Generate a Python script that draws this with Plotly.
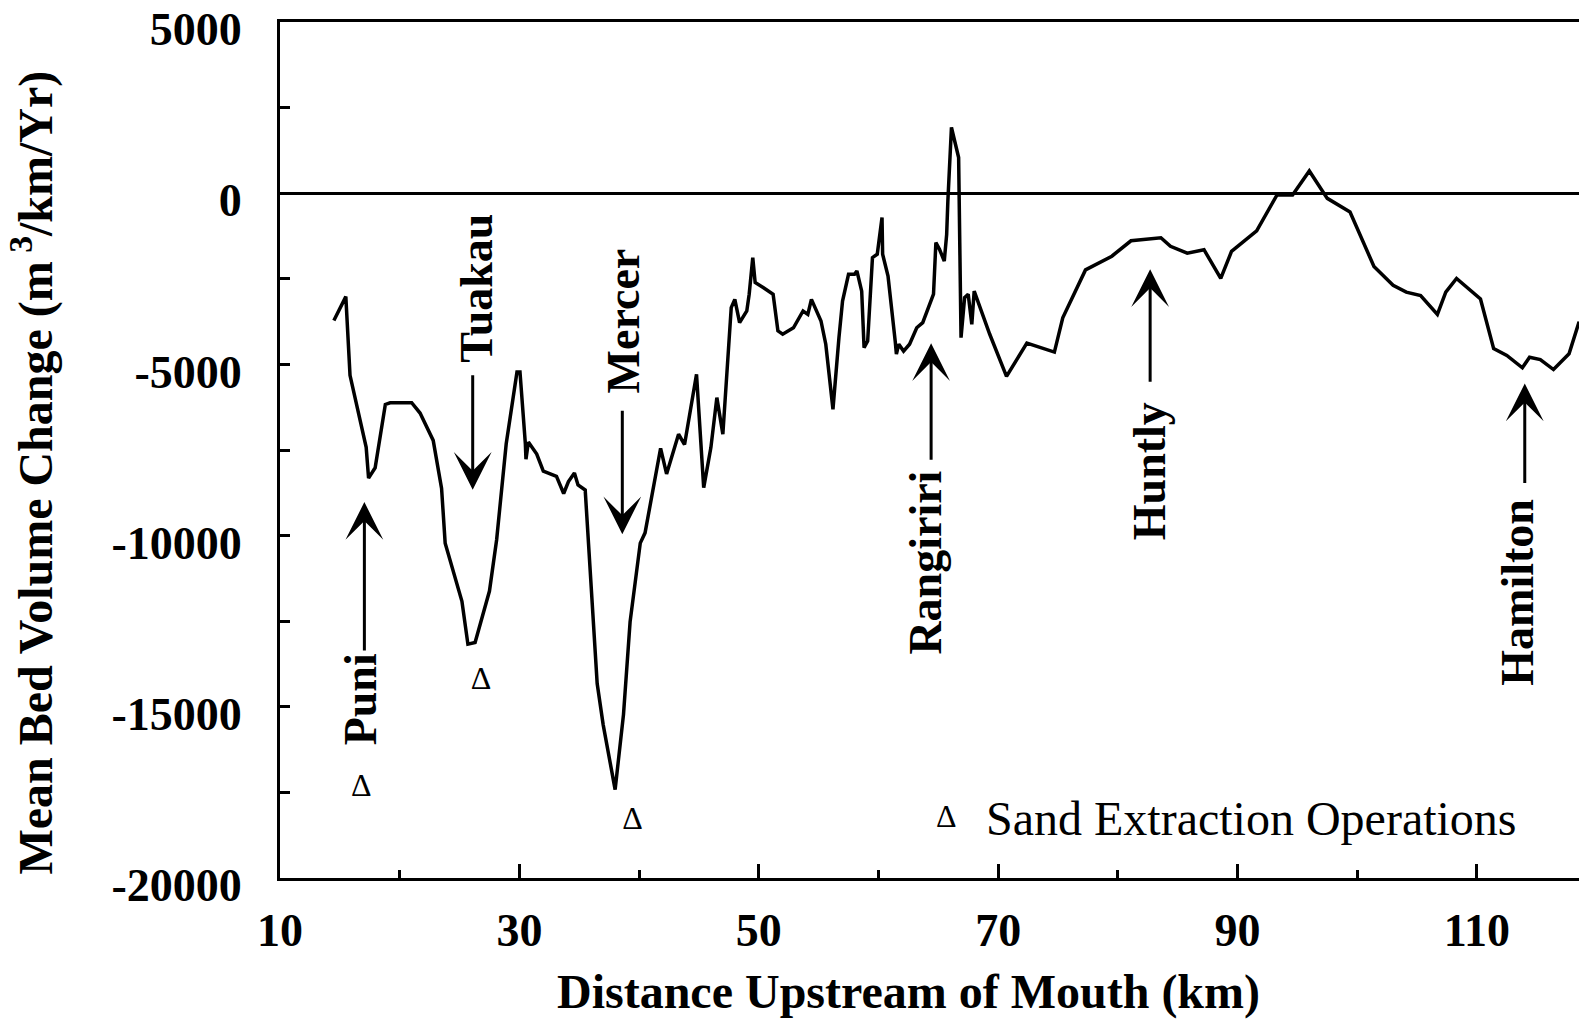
import plotly.graph_objects as go

# distance upstream of mouth (km) and mean bed volume change (m3/km/yr)
km = [14.5, 15.5, 15.85, 17.2, 17.4, 17.95, 18.8, 19.2, 19.75, 21.0, 21.7, 22.8,
      23.5, 23.8, 25.2, 25.7, 26.3, 27.5, 28.1, 28.9, 29.8, 30.05, 30.5, 30.55,
      30.75, 31.45, 32.0, 33.1, 33.7, 34.1, 34.6, 34.9, 35.5, 36.0, 36.5, 37.0,
      38.0, 38.7, 39.25, 40.1, 40.5, 41.8, 42.3, 43.3, 43.8, 44.8, 45.4, 46.0,
      46.5, 47.0, 47.7, 48.0, 48.4, 49.0, 49.2, 49.5, 49.7, 50.4, 51.2, 51.6,
      52.0, 52.9, 53.7, 54.1, 54.4, 55.2, 55.6, 56.2, 56.5, 56.7, 57.0, 57.5,
      58.0, 58.2, 58.6, 58.8, 59.1, 59.5, 59.9, 60.3, 60.35, 60.8, 61.4, 61.5,
      61.7, 62.1, 62.6, 63.2, 63.7, 64.6, 64.8, 65.1, 65.5, 65.7, 65.8, 66.1,
      66.4, 66.7, 66.9, 67.2, 67.5, 67.8, 68.0, 69.3, 70.7, 72.4, 74.7, 75.4,
      77.3, 79.5, 81.1, 83.6, 84.4, 85.8, 87.2, 88.6, 89.5, 91.6, 93.3, 94.6,
      96.0, 97.5, 99.4, 101.4, 103.0, 104.1, 105.3, 106.7, 107.4, 108.3, 110.3,
      111.4, 112.5, 113.8, 114.4, 115.3, 116.4, 117.7, 118.5, 119.2]
volume = [-3720, -3020, -5320, -7420, -8320, -8020, -6170, -6120, -6120, -6120, -6420, -7220,
          -8620, -10220, -11920, -13170, -13120, -11620, -10120, -7320, -5220, -5220, -7320, -7770,
          -7270, -7620, -8120, -8270, -8770, -8420, -8170, -8520, -8670, -11320, -14320, -15520,
          -17420, -15220, -12520, -10220, -9920, -7450, -8200, -7040, -7340, -5290, -8600, -7430,
          -5970, -7040, -3340, -3100, -3780, -3440, -2950, -1880, -2610, -2760, -2950, -4020,
          -4120, -3930, -3440, -3540, -3100, -3730, -4410, -6310, -5000, -4220, -3150, -2370,
          -2370, -2270, -2860, -4510, -4320, -1880, -1780, -710, -1780, -2420, -4320, -4700,
          -4410, -4610, -4410, -3930, -3780, -2950, -1440, -1640, -1980, -1200, -230, 1920,
          1480, 1040, -4220, -3050, -2950, -3830, -2860, -4120, -5350, -4380, -4640, -3640,
          -2240, -1840, -1390, -1300, -1550, -1750, -1650, -2490, -1700, -1100, -50, -50,
          650, -150, -550, -2140, -2690, -2890, -2990, -3540, -2890, -2490, -3090,
          -4540, -4740, -5100, -4790, -4860, -5150, -4690, -3800, -3850]

# sand extraction operations
sand_km = [16.8, 26.8, 39.45]
sand_vol = [-17380, -14250, -18330]

# towns: label, arrow tip (km, value), arrow tail offset px, label centre (km, value)
towns = ["Puni", "Tuakau", "Mercer", "Rangiriri", "Huntly", "Hamilton"]
arrow_km = [17.05, 26.1, 38.6, 64.4, 82.7, 114.0]
arrow_vol = [-9020, -8660, -9960, -4380, -2220, -5560]
arrow_tail = [150, -116, -125, 118, 114, 101]
label_km = [16.69, 26.41, 38.67, 63.97, 82.66, 113.4]
label_vol = [-14780, -2780, -3740, -10790, -8130, -11650]

y_ticks = [-20000, -15000, -10000, -5000, 0, 5000]
y_labels = ["-20000", "-15000", "-10000", "-5000", "0", "5000"]

FONT = "Liberation Serif"

fig = go.Figure()
fig.add_trace(go.Scatter(x=km, y=volume, mode="lines",
                         line=dict(color="black", width=3.5), showlegend=False))
fig.add_trace(go.Scatter(x=sand_km, y=sand_vol, mode="text", text=["Δ"] * len(sand_km),
                         textfont=dict(family=FONT, size=32, color="black"),
                         showlegend=False))

anns = []
for name, ax_, ay_, tail, lx, ly in zip(towns, arrow_km, arrow_vol, arrow_tail, label_km, label_vol):
    anns.append(dict(x=ax_, y=ay_, xref="x", yref="y", text="", showarrow=True,
                     ax=0, ay=tail, arrowhead=3, arrowsize=2.1, arrowwidth=3,
                     arrowcolor="black"))
    anns.append(dict(x=lx, y=ly, xref="x", yref="y", text=name, showarrow=False,
                     textangle=-90, xanchor="center", yanchor="middle",
                     font=dict(family=FONT, size=46, color="black", weight="bold")))

anns.append(dict(x=65.65, y=-18180, xref="x", yref="y", text="Δ", showarrow=False,
                 font=dict(family=FONT, size=32, color="black")))
anns.append(dict(x=68.8, y=-18270, xref="x", yref="y", text="Sand Extraction Operations",
                 showarrow=False, xanchor="left", yanchor="middle",
                 font=dict(family=FONT, size=48, color="black")))
anns.append(dict(x=-0.1895, y=0.474, xref="paper", yref="paper",
                 text="Mean Bed Volume Change (m<sup> 3</sup>/km/Yr)", showarrow=False,
                 textangle=-90, xanchor="center", yanchor="middle",
                 font=dict(family=FONT, size=48, color="black", weight="bold")))
anns.append(dict(x=0.481, y=-0.1326, xref="paper", yref="paper",
                 text="Distance Upstream of Mouth (km)", showarrow=False,
                 xanchor="center", yanchor="middle",
                 font=dict(family=FONT, size=48, color="black", weight="bold")))

# page body has an 8px margin, so the figure is shrunk by that much
fig.update_layout(
    width=1579, height=1011,
    margin=dict(l=272, r=0, t=14, b=141),
    plot_bgcolor="white", paper_bgcolor="white",
    annotations=anns,
    xaxis=dict(range=[10, 119.2], tick0=10, dtick=20, ticks="inside", ticklen=14,
               tickwidth=2.5, tickcolor="black", showline=True, linewidth=3,
               linecolor="black", mirror=True, showgrid=False, zeroline=False,
               ticklabelstandoff=10, automargin=False,
               tickfont=dict(family=FONT, size=46, color="black", weight="bold"),
               minor=dict(tick0=10, dtick=10, ticks="inside", ticklen=8,
                          tickwidth=2.5, tickcolor="black")),
    yaxis=dict(range=[-20000, 5000], tickmode="array", tickvals=y_ticks, ticktext=y_labels,
               ticks="inside", ticklen=10, ticklabeloverflow="allow", automargin=False,
               tickwidth=2.5, tickcolor="black", showline=True, linewidth=3,
               linecolor="black", showgrid=False, zeroline=True,
               zerolinecolor="black", zerolinewidth=2.5,
               ticklabelstandoff=26, ticklabelshift=7,
               tickfont=dict(family=FONT, size=46, color="black", weight="bold"),
               minor=dict(tick0=0, dtick=2500, ticks="inside", ticklen=10,
                          tickwidth=2.5, tickcolor="black")),
)

fig.write_html("out.html")
